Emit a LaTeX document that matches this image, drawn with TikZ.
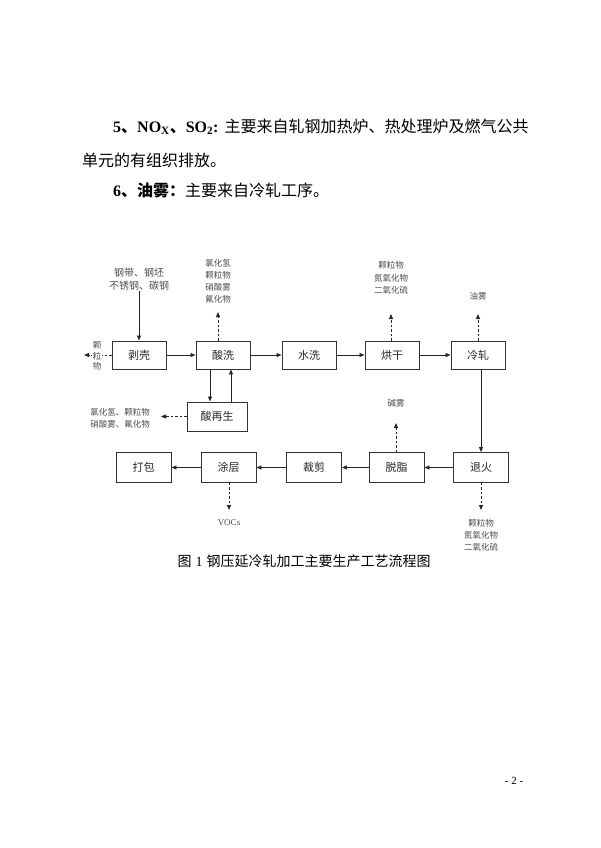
\documentclass[tikz,border=0pt]{standalone}
\usepackage{fontspec}
\setmainfont{Liberation Serif}
\newfontfamily\cjk{Noto Sans CJK SC}
\usetikzlibrary{arrows.meta, positioning}

\begin{document}
\begin{tikzpicture}[
			x=1pt, y=-1pt,
			>={Triangle[length=5pt, width=4pt]},
			proc/.style={rectangle, draw=black!80, line width=0.9pt, minimum width=54pt, minimum height=28pt, font=\cjk\fontsize{11}{13}\selectfont, text=black!85},
			emit/.style={font=\cjk\fontsize{8.5}{12}\selectfont, text=black!70, align=center, inner sep=1pt},
			flow/.style={->, black!85, line width=0.8pt},
			gas/.style={->, black!85, line width=0.8pt, dash pattern=on 2.5pt off 2pt},
			para/.style={anchor=base west, font=\cjk\fontsize{16}{16}\selectfont, inner sep=0pt}
			]
			\useasboundingbox (0,0) rectangle (600,848);
			
			% Text above the figure
			\node[para] (line1) at (113,132) {{\bfseries{\rmfamily 5}、{\rmfamily NO\textsubscript{X}}、{\rmfamily SO\textsubscript{2}:}}\hspace{6pt}主要来自轧钢加热炉、热处理炉及燃气公共};
			\node[para] (line2) at (82,166) {单元的有组织排放。};
			\node[para] (line3) at (113,196) {{\bfseries{\rmfamily 6}、油雾：}主要来自冷轧工序。};
			
			% Top row
			\node[proc] (boke) at (139,355) {剥壳};
			\node[proc] (suanxi) at (223,355) {酸洗};
			\node[proc] (shuixi) at (309,355) {水洗};
			\node[proc] (honggan) at (392,355) {烘干};
			\node[proc] (lengzha) at (478,355) {冷轧};
			
			% Acid regeneration
			\node[proc, minimum width=60pt, minimum height=29pt] (zaisheng) at (217,416.5) {酸再生};
			
			% Bottom row
			\node[proc, minimum width=55pt, minimum height=30pt] (dabao) at (143.5,467.5) {打包};
			\node[proc, minimum width=55pt, minimum height=30pt] (tuceng) at (228.5,467.5) {涂层};
			\node[proc, minimum width=55pt, minimum height=30pt] (caijian) at (314,467.5) {裁剪};
			\node[proc, minimum width=55pt, minimum height=30pt] (tuozhi) at (396.5,467.5) {脱脂};
			\node[proc, minimum width=55pt, minimum height=30pt] (tuihuo) at (481,467.5) {退火};
			
			% Raw material and emissions
			\node[emit, font=\cjk\fontsize{10}{12.5}\selectfont] (raw) at (139,279) {钢带、钢坯\\不锈钢、碳钢};
			\node[emit] (sxgas) at (218,281) {氯化氢\\颗粒物\\硝酸雾\\氟化物};
			\node[emit] (zsgas) at (120,418) {氯化氢、颗粒物\\硝酸雾、氟化物};
			\node[emit, font=\cjk\fontsize{8.5}{12.5}\selectfont] (hggas) at (391,278) {颗粒物\\氮氧化物\\二氧化硫};
			\node[emit] (lzgas) at (478,296) {油雾};
			\node[emit] (tzgas) at (396,403) {碱雾};
			\node[emit] (thgas) at (481,535.5) {颗粒物\\氮氧化物\\二氧化硫};
			\node[emit, font=\fontsize{9}{11}\selectfont] (tcgas) at (229,523) {VOCs};
			
			% Arrow ends
			\coordinate (bkend) at (84,355);
			\coordinate (sxend) at (218,312);
			\coordinate (zsend) at (161,416.5);
			\coordinate (hgend) at (391,314);
			\coordinate (lzend) at (478,314);
			\coordinate (tzend) at (396,423);
			\coordinate (thend) at (481,510);
			\coordinate (tcend) at (229,510);
			
			% Main flow
			\draw[flow] (raw) -- (boke);
			\draw[flow] (boke) -- (suanxi);
			\draw[flow] (suanxi) -- (shuixi);
			\draw[flow] (shuixi) -- (honggan);
			\draw[flow] (honggan) -- (lengzha);
			\draw[flow] (tuihuo.north |- lengzha.south) -- (tuihuo.north);
			\draw[flow] (tuihuo) -- (tuozhi);
			\draw[flow] (tuozhi) -- (caijian);
			\draw[flow] (caijian) -- (tuceng);
			\draw[flow] (tuceng) -- (dabao);
			
			% Acid loop
			\draw[flow] ([xshift=-13pt]suanxi.south) -- ([xshift=-13pt]suanxi.south |- zaisheng.north);
			\draw[flow] ([xshift=8pt]suanxi.south |- zaisheng.north) -- ([xshift=8pt]suanxi.south);
			
			% Emissions
			\draw[gas] (boke.west) -- (bkend);
			\node[emit, fill=white, inner sep=0.5pt, font=\cjk\fontsize{8.5}{10.5}\selectfont] (bkgas) at (97,356) {颗\\粒\\物};
			\draw[gas] (sxend |- suanxi.north) -- (sxend);
			\draw[gas] (zaisheng.west) -- (zsend);
			\draw[gas] (hgend |- honggan.north) -- (hgend);
			\draw[gas] (lengzha.north) -- (lzend);
			\draw[gas] (tzend |- tuozhi.north) -- (tzend);
			\draw[gas] (thend |- tuihuo.south) -- (thend);
			\draw[gas] (tcend |- tuceng.south) -- (tcend);
			
			% Caption and page number
			\node[font=\cjk\fontsize{14}{16}\selectfont] (caption) at (304,561) {图\hspace{4pt}{\rmfamily 1}\hspace{4pt}钢压延冷轧加工主要生产工艺流程图};
			\node[font=\fontsize{11}{13}\selectfont] (pageno) at (514,781) {- 2 -};
			
		\end{tikzpicture}
\end{document}
